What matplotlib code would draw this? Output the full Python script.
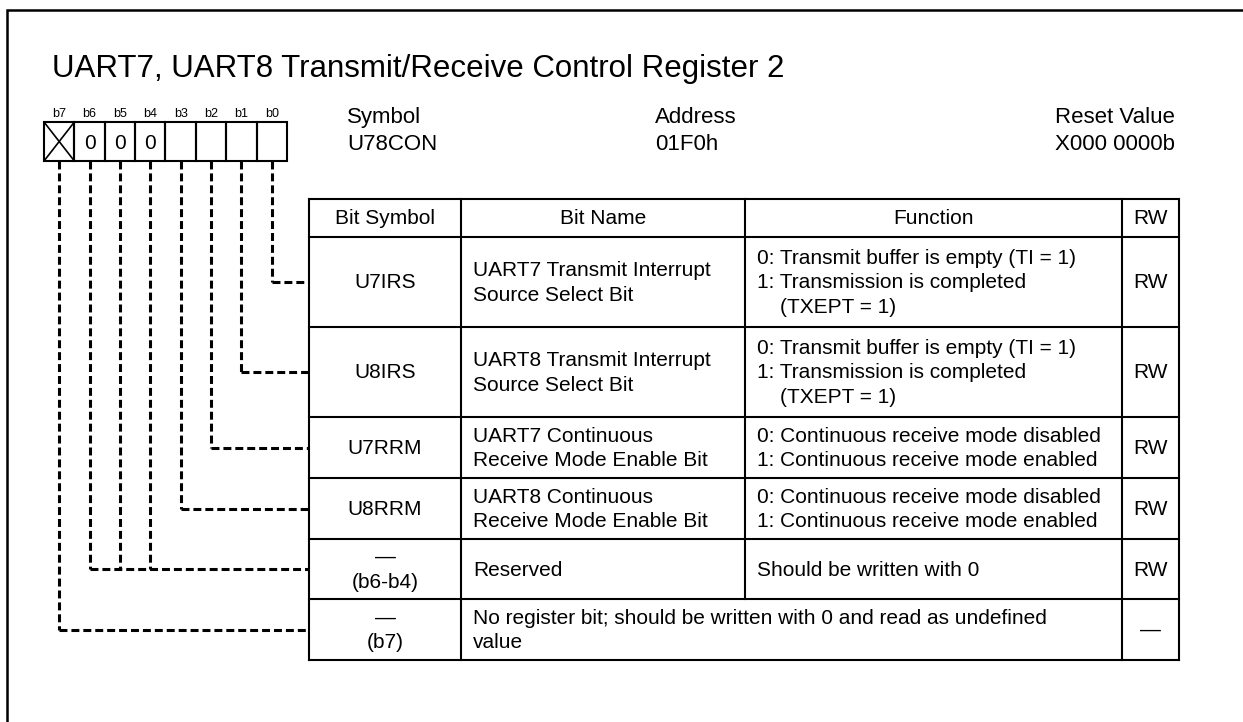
import matplotlib
matplotlib.use("Agg")
import matplotlib.pyplot as plt
from matplotlib.patches import Rectangle

plt.rcParams['font.family'] = ['Liberation Sans', 'DejaVu Sans']

# register data
title = "UART7, UART8 Transmit/Receive Control Register 2"
bit_labels = ["b7", "b6", "b5", "b4", "b3", "b2", "b1", "b0"]
bit_values = ["X", "0", "0", "0", "", "", "", ""]
reg_symbol = "U78CON"
reg_address = "01F0h"
reset_value = "X000 0000b"

headers = ["Bit Symbol", "Bit Name", "Function", "RW"]
bit_symbols = ["U7IRS", "U8IRS", "U7RRM", "U8RRM", "\u2014\n(b6-b4)", "\u2014\n(b7)"]
bit_names = ["UART7 Transmit Interrupt\nSource Select Bit",
             "UART8 Transmit Interrupt\nSource Select Bit",
             "UART7 Continuous\nReceive Mode Enable Bit",
             "UART8 Continuous\nReceive Mode Enable Bit",
             "Reserved",
             "No register bit; should be written with 0 and read as undefined\nvalue"]
functions = ["0: Transmit buffer is empty (TI = 1)\n1: Transmission is completed\n    (TXEPT = 1)",
             "0: Transmit buffer is empty (TI = 1)\n1: Transmission is completed\n    (TXEPT = 1)",
             "0: Continuous receive mode disabled\n1: Continuous receive mode enabled",
             "0: Continuous receive mode disabled\n1: Continuous receive mode enabled",
             "Should be written with 0",
             None]
rw = ["RW", "RW", "RW", "RW", "RW", "\u2014"]
# which bits (index into bit_labels) feed each table row
row_bits = [[7], [6], [5], [4], [1, 2, 3], [0]]

# layout (pixels)
W, H = 1243, 722
col_x = [309, 461, 745, 1122, 1179]
row_y = [199, 237, 327, 417, 478, 539, 599, 660]
box_x0, box_x1, box_y0, box_y1 = 44, 287, 122, 161

fig = plt.figure(figsize=(W / 100, H / 100), dpi=100)
ax = fig.add_axes([0, 0, 1, 1])
ax.set_xlim(0, W)
ax.set_ylim(H, 0)
ax.axis('off')

# outer frame (runs off right/bottom edges)
ax.plot([7, 7, W + 10], [H + 10, 10, 10], color='black', lw=1.8, solid_joinstyle='miter')

ax.text(52, 77, title, fontsize=22.5, va='baseline', ha='left')

# bit boxes
cw = (box_x1 - box_x0) / 8
for i, (lab, val) in enumerate(zip(bit_labels, bit_values)):
    x0 = box_x0 + i * cw
    ax.add_patch(Rectangle((x0, box_y0), cw, box_y1 - box_y0, fill=False, lw=1.5, ec='black'))
    ax.text(x0 + cw / 2, 117, lab, fontsize=9, ha='center', va='baseline')
    if val == "X":
        ax.plot([x0, x0 + cw], [box_y0, box_y1], color='black', lw=1.2)
        ax.plot([x0, x0 + cw], [box_y1, box_y0], color='black', lw=1.2)
    elif val:
        ax.text(x0 + cw / 2, 149, val, fontsize=15, ha='center', va='baseline')

# symbol / address / reset
fs_s = 16
ax.text(347, 123, "Symbol", fontsize=fs_s, ha='left', va='baseline')
ax.text(347, 150, reg_symbol, fontsize=fs_s, ha='left', va='baseline')
ax.text(655, 123, "Address", fontsize=fs_s, ha='left', va='baseline')
ax.text(655, 150, reg_address, fontsize=fs_s, ha='left', va='baseline')
ax.text(1175, 123, "Reset Value", fontsize=fs_s, ha='right', va='baseline')
ax.text(1175, 150, reset_value, fontsize=fs_s, ha='right', va='baseline')

# table grid
lw_t = 1.5
for y in row_y:
    ax.plot([col_x[0], col_x[-1]], [y, y], color='black', lw=lw_t)
for x in (col_x[0], col_x[1], col_x[3], col_x[4]):
    ax.plot([x, x], [row_y[0], row_y[-1]], color='black', lw=lw_t)
ax.plot([col_x[2], col_x[2]], [row_y[0], row_y[-2]], color='black', lw=lw_t)

fs = 15
ls = 1.38
for j, h in enumerate(headers):
    ax.text((col_x[j] + col_x[j + 1]) / 2, (row_y[0] + row_y[1]) / 2 + 1, h,
            fontsize=fs, ha='center', va='center')

dash = (0, (2.6, 1.3))
for r in range(len(bit_symbols)):
    yc = (row_y[r + 1] + row_y[r + 2]) / 2
    ax.text((col_x[0] + col_x[1]) / 2, yc + 1, bit_symbols[r], fontsize=fs,
            ha='center', va='center', multialignment='center', linespacing=ls)
    ax.text(col_x[1] + 12, yc + 1, bit_names[r], fontsize=fs, ha='left', va='center',
            linespacing=ls)
    if functions[r] is not None:
        ax.text(col_x[2] + 12, yc + 1, functions[r], fontsize=fs, ha='left', va='center',
                linespacing=ls)
    ax.text((col_x[3] + col_x[4]) / 2, yc + 1, rw[r], fontsize=fs, ha='center', va='center')

    # dashed connectors from bit cells to row
    xs = [box_x0 + cw * (b + 0.5) for b in row_bits[r]]
    for x in xs:
        ax.plot([x, x], [box_y1, yc], color='black', lw=2.2, linestyle=dash)
    ax.plot([min(xs), col_x[0]], [yc, yc], color='black', lw=2.2, linestyle=dash)

fig.savefig("out.png", dpi=100)
